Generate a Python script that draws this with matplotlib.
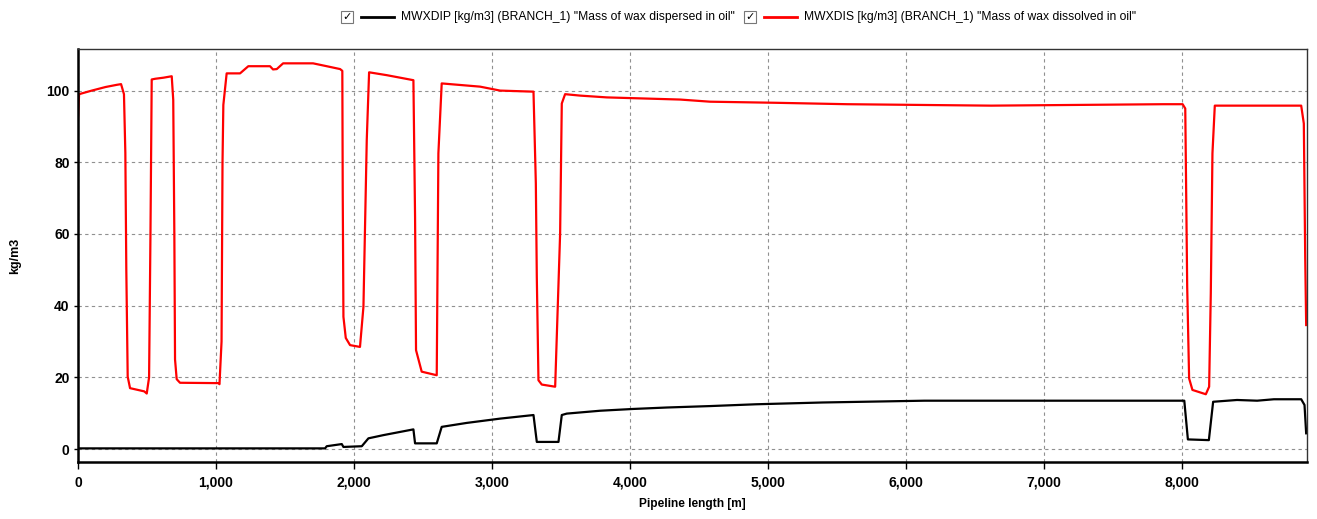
import matplotlib
matplotlib.use("Agg")
import matplotlib.pyplot as plt
from matplotlib.ticker import FuncFormatter, MultipleLocator
from matplotlib.lines import Line2D
from matplotlib.patches import Rectangle

# pipeline positions [m] and values [kg/m3]
dis_x = [0, 8, 100, 200, 280, 312, 333, 343, 350, 360, 377, 480, 498, 515, 525, 534,
         560, 620, 679, 690, 698, 703, 715, 739, 1017, 1025, 1040, 1047, 1053, 1077,
         1174, 1234, 1391, 1413, 1440, 1486, 1703, 1802, 1899, 1915, 1918, 1923, 1940,
         1971, 2043, 2068, 2092, 2109, 2237, 2430, 2442, 2449, 2490, 2599, 2611, 2635,
         2696, 2913, 3058, 3300, 3317, 3324, 3336, 3360, 3457, 3493, 3505, 3529, 3638,
         3831, 4362, 4580, 5051, 5573, 6616, 7863, 8003, 8022, 8029, 8036, 8050, 8074,
         8171, 8195, 8207, 8219, 8236, 8862, 8881, 8891, 8898]
dis_y = [92, 99.0, 100, 101, 101.6, 101.8, 99, 82.6, 50, 20.2, 17, 16.1, 15.5, 20, 60, 103.1,
         103.3, 103.6, 104, 97.4, 60, 25, 19.5, 18.5, 18.4, 18.1, 30, 80, 96, 104.8,
         104.8, 106.8, 106.8, 105.9, 106, 107.6, 107.6, 106.8, 106, 105.5, 71.4, 36.9, 31,
         29, 28.5, 39.7, 86.2, 105.1, 104.3, 102.9, 64.8, 27.6, 21.6, 20.6, 82.5, 102,
         101.8, 101.1, 100, 99.7, 74.1, 48, 19.2, 18, 17.4, 60.2, 96.4, 99, 98.6,
         98.1, 97.5, 96.9, 96.6, 96.2, 95.8, 96.2, 96.2, 95, 70.4, 45.3, 19.7, 16.5,
         15.3, 17.4, 43.4, 82.5, 95.8, 95.8, 90.8, 53.6, 34.6]

dip_x = [0, 1790, 1802, 1911, 1923, 2056, 2104, 2213, 2430, 2442, 2599, 2635, 2816, 3058,
         3300, 3324, 3481, 3505, 3541, 3783, 4024, 4266, 4580, 4911, 5394, 6132, 8015,
         8041, 8193, 8224, 8397, 8543, 8664, 8862, 8886, 8898]
dip_y = [0.2, 0.2, 0.8, 1.4, 0.6, 0.8, 3.0, 3.9, 5.5, 1.6, 1.6, 6.2, 7.3, 8.5,
         9.5, 2.0, 2.0, 9.5, 9.9, 10.7, 11.2, 11.6, 12.0, 12.5, 13.0, 13.5, 13.5,
         2.7, 2.5, 13.2, 13.7, 13.5, 13.9, 13.9, 12.3, 4.4]

label_dip = 'MWXDIP [kg/m3] (BRANCH_1) "Mass of wax dispersed in oil"'
label_dis = 'MWXDIS [kg/m3] (BRANCH_1) "Mass of wax dissolved in oil"'

W, H = 1317, 519
fig = plt.figure(figsize=(W / 100, H / 100), dpi=100)
ax = fig.add_axes([78 / W, (H - 462) / H, (1307 - 78) / W, (462 - 49) / H])

ax.plot(dip_x, dip_y, color="black", lw=1.6)
ax.plot(dis_x, dis_y, color="red", lw=1.6)

ax.set_xlim(0, 8904)
ax.set_ylim(-3.6, 111.6)
ax.xaxis.set_major_locator(MultipleLocator(1000))
ax.yaxis.set_major_locator(MultipleLocator(20))
ax.xaxis.set_major_formatter(FuncFormatter(lambda v, p: "{:,.0f}".format(v)))
ax.grid(True, color="#909090", lw=0.8, linestyle=(0, (3, 3)))

for s in ["left", "bottom"]:
    ax.spines[s].set_linewidth(1.8)
for s in ["top", "right"]:
    ax.spines[s].set_linewidth(1.0)
    ax.spines[s].set_color("#333333")

ax.tick_params(axis="x", length=5, width=1, pad=5, labelsize=10)
ax.tick_params(axis="y", length=3, width=1, pad=3, labelsize=10)
for t in ax.get_xticklabels() + ax.get_yticklabels():
    t.set_fontweight("bold")
    t.set_family("Liberation Sans")

ax.set_xlabel("Pipeline length [m]", fontsize=8.6, fontweight="bold", family="Liberation Sans")
ax.xaxis.set_label_coords(0.5, -(504 - 462) / 413, transform=ax.transAxes)
ax.xaxis.label.set_va("center")
ax.set_ylabel("kg/m3", fontsize=9, fontweight="bold", family="Liberation Sans")
ax.yaxis.set_label_coords(-(78 - 15) / 1229, 0.5, transform=ax.transAxes)
ax.yaxis.label.set_va("center")

# legend drawn by hand along the top like the original tool does
def legend_item(x0, color, text):
    yc = H - 17
    fig.patches.append(Rectangle((x0, yc - 6), 12, 12, transform=None, fill=False,
                                 edgecolor="#777777", lw=0.8))
    fig.text(x0 + 6, yc, "\u2713", transform=None, ha="center", va="center", fontsize=8)
    fig.lines.append(Line2D([x0 + 20, x0 + 53], [yc, yc], transform=None, color=color, lw=2))
    fig.text(x0 + 60, yc, text, transform=None, ha="left", va="center", fontsize=8.7,
             family="Liberation Sans")

legend_item(341, "black", label_dip)
legend_item(744, "red", label_dis)

fig.savefig("out.png", dpi=100)
